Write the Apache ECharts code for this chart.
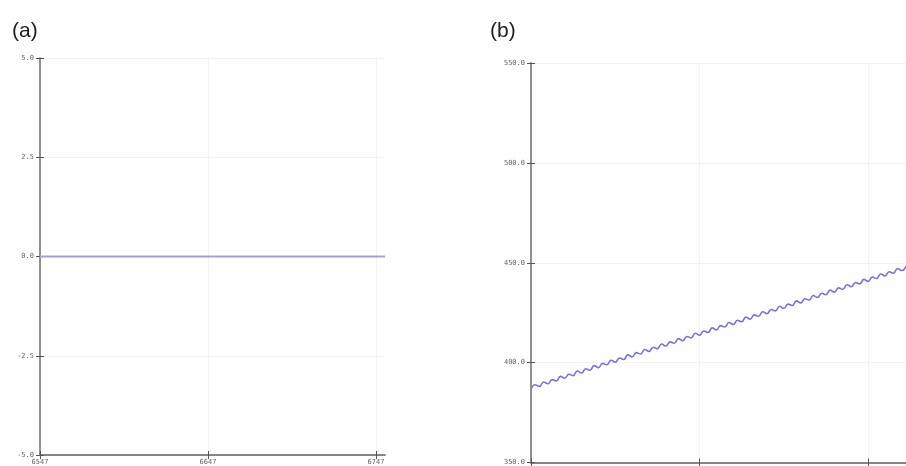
<!DOCTYPE html>
<html>
<head>
<meta charset="utf-8">
<script src="https://cdn.jsdelivr.net/npm/echarts@6/dist/echarts.min.js"></script>
<style>
  html, body { margin: 0; padding: 0; background: #fff; }
  #chart { width: 906px; height: 466px; }
</style>
</head>
<body>
<div id="chart"></div>
<script>
// Panel labels
const panelTitles = ['(a)', '(b)'];

// Panel (a): flat signal at zero
const timeA = [6547, 6752.4];
const valueA = [0, 0];
const xTicksA = [6547, 6647, 6747];
const yRangeA = [-5, 5];

// Panel (b): rising signal with a small periodic ripple
const timeB = [
  6547, 6549.5, 6552, 6554.5, 6557, 6559.5, 6562, 6564.5, 6567, 6569.5,
  6572, 6574.5, 6577, 6579.5, 6582, 6584.5, 6587, 6589.5, 6592, 6594.5,
  6597, 6599.5, 6602, 6604.5, 6607, 6609.5, 6612, 6614.5, 6617, 6619.5,
  6622, 6624.5, 6627, 6629.5, 6632, 6634.5, 6637, 6639.5, 6642, 6644.5,
  6647, 6649.5, 6652, 6654.5, 6657, 6659.5, 6662, 6664.5, 6667, 6669.5,
  6672, 6674.5, 6677, 6679.5, 6682, 6684.5, 6687, 6689.5, 6692, 6694.5,
  6697, 6699.5, 6702, 6704.5, 6707, 6709.5, 6712, 6714.5, 6717, 6719.5,
  6722, 6724.5, 6727, 6729.5, 6732, 6734.5, 6737, 6739.5, 6742, 6744.5,
  6747, 6749.5, 6752, 6754.5, 6757, 6759.5, 6762, 6764.5, 6767, 6769.5
];
const valueB = [
  386.8, 388.9, 388.1, 390.3, 389.4, 391.5, 390.8, 393.1, 392.2, 394.2,
  393.5, 395.8, 394.8, 396.9, 396.2, 398.5, 397.5, 399.6, 398.9, 401.2,
  400.2, 402.3, 401.6, 403.9, 402.9, 405.0, 404.3, 406.6, 405.6, 407.7,
  407.0, 409.3, 408.3, 410.4, 409.7, 412.0, 411.0, 413.1, 412.4, 414.7,
  413.7, 415.8, 415.1, 417.4, 416.4, 418.5, 417.8, 420.1, 419.1, 421.2,
  420.5, 422.8, 421.8, 423.9, 423.2, 425.5, 424.5, 426.6, 425.9, 428.2,
  427.2, 429.3, 428.6, 430.9, 429.9, 432.0, 431.3, 433.6, 432.6, 434.7,
  434.0, 436.3, 435.3, 437.4, 436.7, 439.0, 438.0, 440.1, 439.4, 441.7,
  440.7, 442.8, 442.1, 444.4, 443.4, 445.5, 444.8, 447.1, 446.1, 448.2
];
const xTicksB = [6547, 6647, 6747];
const yRangeB = [350, 550];
const xRangeB = [6547, 6769.5];

const monoFont = '"DejaVu Sans Mono", monospace';
const axisGray = '#858585';
const gridGray = '#f3f3f3';

function pairs(xs, ys) {
  return xs.map((x, i) => [x, ys[i]]);
}

// One visible axis with outward ticks plus a bare twin with inward ticks,
// so every tick mark crosses the axis line.
function xAxes(gridIndex, min, max, ticks, showLabels) {
  const base = {
    type: 'value', gridIndex, min, max, position: 'bottom'
  };
  return [
    Object.assign({}, base, {
      axisLine: { show: true, onZero: false, lineStyle: { color: axisGray, width: 1.8 } },
      axisTick: { show: true, length: 4, customValues: ticks, lineStyle: { color: '#555', width: 1 } },
      axisLabel: {
        show: showLabels, customValues: ticks, margin: 4,
        fontFamily: monoFont, fontSize: 7, color: '#666',
        formatter: v => String(v)
      },
      splitLine: { show: true, lineStyle: { color: gridGray, width: 1 } }
    }),
    Object.assign({}, base, {
      axisLine: { show: false, onZero: false },
      axisTick: { show: true, inside: true, length: 4, customValues: ticks, lineStyle: { color: '#555', width: 1 } },
      axisLabel: { show: false },
      splitLine: { show: false }
    })
  ];
}

function yAxes(gridIndex, min, max, interval) {
  const base = { type: 'value', gridIndex, min, max, interval, position: 'left' };
  return [
    Object.assign({}, base, {
      axisLine: { show: true, onZero: false, lineStyle: { color: axisGray, width: 1.8 } },
      axisTick: { show: true, length: 4, lineStyle: { color: '#555', width: 1 } },
      axisLabel: {
        margin: 6, fontFamily: monoFont, fontSize: 7, color: '#666',
        formatter: v => v.toFixed(1)
      },
      splitLine: { show: true, lineStyle: { color: gridGray, width: 1 } }
    }),
    Object.assign({}, base, {
      axisLine: { show: false, onZero: false },
      axisTick: { show: true, inside: true, length: 4, lineStyle: { color: '#555', width: 1 } },
      axisLabel: { show: false },
      splitLine: { show: false }
    })
  ];
}

const chart = echarts.init(document.getElementById('chart'), null, { renderer: 'canvas' });

chart.setOption({
  animation: false,
  backgroundColor: '#ffffff',
  title: [
    { text: panelTitles[0], left: 7, top: 16,
      textStyle: { fontFamily: '"Liberation Sans", Arial, sans-serif', fontSize: 21, fontWeight: 'normal', color: '#222' } },
    { text: panelTitles[1], left: 485, top: 16,
      textStyle: { fontFamily: '"Liberation Sans", Arial, sans-serif', fontSize: 21, fontWeight: 'normal', color: '#222' } }
  ],
  grid: [
    { left: 40, top: 58, width: 345, height: 398 },
    { left: 531, top: 63, width: 375, height: 400 }
  ],
  xAxis: [
    ...xAxes(0, timeA[0], timeA[timeA.length - 1], xTicksA, true),
    ...xAxes(1, xRangeB[0], xRangeB[1], xTicksB, false)
  ],
  yAxis: [
    ...yAxes(0, yRangeA[0], yRangeA[1], 2.5),
    ...yAxes(1, yRangeB[0], yRangeB[1], 50)
  ],
  series: [
    {
      type: 'line', xAxisIndex: 0, yAxisIndex: 0,
      data: pairs(timeA, valueA),
      showSymbol: false,
      lineStyle: { color: '#9d9df2', width: 2 }
    },
    {
      type: 'line', xAxisIndex: 2, yAxisIndex: 2,
      data: pairs(timeB, valueB),
      showSymbol: false,
      smooth: 0.5,
      lineStyle: { color: '#7474d9', width: 1.6 }
    }
  ]
});
</script>
</body>
</html>
